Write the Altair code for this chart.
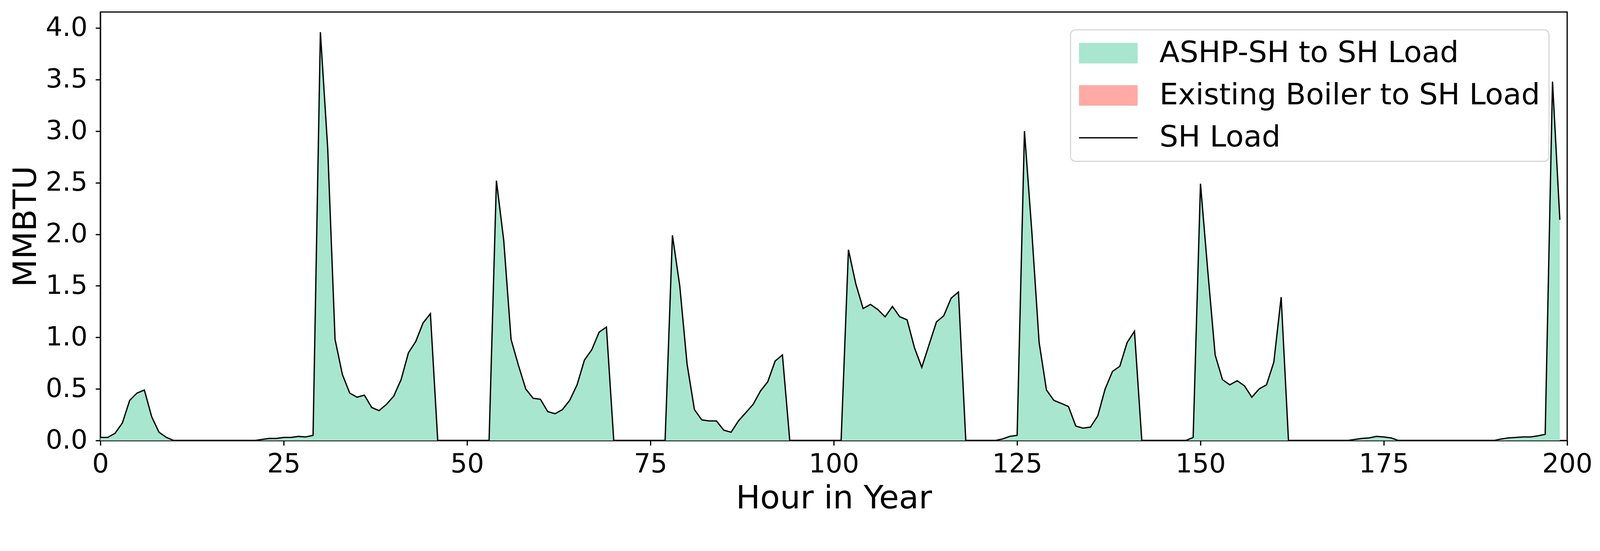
import altair as alt
import pandas as pd

# hourly space-heating load (MMBTU), hours 0..199
hours = list(range(200))
sh_load = [
    0.03, 0.03, 0.07, 0.17, 0.39, 0.46, 0.49, 0.23, 0.08, 0.03,
    0.0, 0.0, 0.0, 0.0, 0.0, 0.0, 0.0, 0.0, 0.0, 0.0,
    0.0, 0.0, 0.01, 0.02, 0.02, 0.03, 0.03, 0.04, 0.035, 0.05,
    3.96, 2.83, 0.98, 0.64, 0.46, 0.42, 0.44, 0.32, 0.29, 0.35,
    0.43, 0.59, 0.85, 0.96, 1.14, 1.23, 0.0, 0.0, 0.0, 0.0,
    0.0, 0.0, 0.0, 0.0, 2.52, 1.94, 0.98, 0.73, 0.50, 0.41,
    0.40, 0.28, 0.26, 0.30, 0.39, 0.54, 0.78, 0.88, 1.05, 1.10,
    0.0, 0.0, 0.0, 0.0, 0.0, 0.0, 0.0, 0.0, 1.99, 1.50,
    0.74, 0.30, 0.20, 0.19, 0.19, 0.10, 0.08, 0.19, 0.27, 0.35,
    0.48, 0.57, 0.77, 0.83, 0.0, 0.0, 0.0, 0.0, 0.0, 0.0,
    0.0, 0.0, 1.85, 1.52, 1.28, 1.32, 1.27, 1.20, 1.30, 1.20,
    1.17, 0.90, 0.71, 0.93, 1.15, 1.21, 1.38, 1.44, 0.0, 0.0,
    0.0, 0.0, 0.0, 0.015, 0.04, 0.05, 3.00, 2.03, 0.95, 0.49,
    0.39, 0.36, 0.33, 0.14, 0.12, 0.13, 0.24, 0.50, 0.67, 0.72,
    0.95, 1.06, 0.0, 0.0, 0.0, 0.0, 0.0, 0.0, 0.0, 0.03,
    2.49, 1.64, 0.83, 0.59, 0.54, 0.58, 0.53, 0.42, 0.50, 0.54,
    0.76, 1.39, 0.0, 0.0, 0.0, 0.0, 0.0, 0.0, 0.0, 0.0,
    0.0, 0.01, 0.02, 0.025, 0.04, 0.035, 0.025, 0.0, 0.0, 0.0,
    0.0, 0.0, 0.0, 0.0, 0.0, 0.0, 0.0, 0.0, 0.0, 0.0,
    0.0, 0.015, 0.025, 0.03, 0.035, 0.035, 0.045, 0.06, 3.48, 2.14,
]
# heat pump covers all of it, boiler nothing
ashp_to_sh = list(sh_load)
boiler_to_sh = [0.0] * 200

series_names = ["ASHP-SH to SH Load", "Existing Boiler to SH Load", "SH Load"]
series_colors = ["#a8e6cf", "#ffaaa5", "black"]
x_ticks = [0, 25, 50, 75, 100, 125, 150, 175, 200]
y_ticks = [0.0, 0.5, 1.0, 1.5, 2.0, 2.5, 3.0, 3.5, 4.0]

area_df = pd.DataFrame({
    "hour": hours + hours,
    "mmbtu": ashp_to_sh + boiler_to_sh,
    "source": [series_names[0]] * 200 + [series_names[1]] * 200,
    "rank": [0] * 200 + [1] * 200,
})
load_df = pd.DataFrame({"hour": hours, "mmbtu": sh_load})

FONT = "DejaVu Sans"

x_enc = alt.X(
    "hour:Q", title="Hour in Year",
    scale=alt.Scale(domain=[0, 200], nice=False, zero=False),
    axis=alt.Axis(values=x_ticks, format="d", labelFlush=False, labelOverlap=False,
                  labelPadding=16, titlePadding=14),
)
y_axis = alt.Axis(values=y_ticks, format=".1f", labelPadding=22, titlePadding=8)
y_scale = alt.Scale(domain=[0, 4.155], nice=False)

# patch swatches for the two fills, a thin bar standing in for the line entry
legend_shape = ("datum.value === 'SH Load' ? 'M-2,-0.045H2V0.045H-2Z' "
                ": 'M-2,-0.7H2V0.7H-2Z'")

legend = alt.Legend(
    title=None, orient="none", legendX=2614, legendY=48,
    labelFont=FONT, labelFontSize=79.5, labelColor="black", labelLimit=2000,
    symbolType={"expr": legend_shape}, symbolSize=6241, symbolOffset=39,
    symbolStrokeWidth=0, symbolOpacity=1, labelOffset=98, rowPadding=33,
    padding=23, cornerRadius=13, fillColor="rgba(255,255,255,0.8)",
    strokeColor="#d6d6d6",
)

area = alt.Chart(area_df).mark_area(opacity=1, line=False).encode(
    x=x_enc,
    y=alt.Y("mmbtu:Q", title="MMBTU", stack="zero", scale=y_scale, axis=y_axis),
    color=alt.Color("source:N", scale=alt.Scale(domain=series_names, range=series_colors),
                    legend=legend),
    order=alt.Order("rank:Q"),
)

line = alt.Chart(load_df).mark_line(color="black", strokeWidth=3.5).encode(
    x=x_enc,
    y=alt.Y("mmbtu:Q", title="MMBTU", stack=None, scale=y_scale, axis=y_axis),
)

chart = alt.layer(area, line).properties(
    width=3952, height=1154,
    autosize=alt.AutoSizeParams(type="none"),
    padding={"left": 262, "top": -12, "right": 80, "bottom": 230},
).configure(
    font=FONT,
).configure_view(
    stroke="black", strokeWidth=3.3,
).configure_axis(
    grid=False, domainColor="black", domainWidth=3.3,
    tickColor="black", tickWidth=3.3, tickSize=13,
    labelFont=FONT, labelFontSize=71, labelColor="black",
    titleFont=FONT, titleFontSize=87, titleFontWeight="normal", titleColor="black",
).configure_legend(
    strokeWidth=3,
)

chart.save("out.html", embed_options={"renderer": "svg", "actions": False})
